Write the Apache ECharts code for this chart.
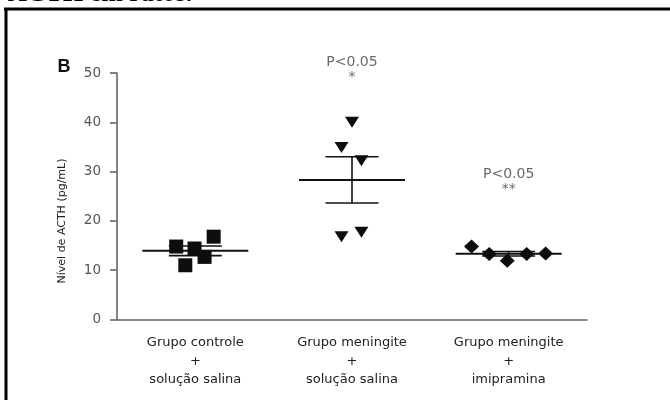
<!DOCTYPE html>
<html>
<head>
<meta charset="utf-8">
<script src="https://cdn.jsdelivr.net/npm/echarts@6/dist/echarts.min.js"></script>
<style>html,body{margin:0;padding:0;background:#fff}#c{width:670px;height:403px}</style>
</head>
<body>
<div id="c"></div>
<script>
// ---- data ----
const categories = ['Grupo controle\n+\nsolução salina', 'Grupo meningite\n+\nsolução salina', 'Grupo meningite\n+\nimipramina'];
const controleSalina = [14.8, 14.4, 16.8, 11.0, 12.7];
const meningiteSalina = [40.0, 34.9, 32.2, 16.8, 17.7];
const meningiteImipramina = [14.8, 13.3, 11.9, 13.3, 13.4];
// horizontal spread of the dots within each group (category units)
const controleSpread = [-0.122, -0.005, 0.117, -0.064, 0.059];
const meningiteSalinaSpread = [0.0, -0.067, 0.06, -0.067, 0.06];
const imipraminaSpread = [-0.237, -0.124, -0.009, 0.115, 0.236];
const annotations = ['', 'P<0.05\n*', 'P<0.05\n**'];
const annotationLevel = [0, 50.7, 27.9];
const yTicks = [0, 10, 20, 30, 40, 50];

const groups = [controleSalina, meningiteSalina, meningiteImipramina];
const spreads = [controleSpread, meningiteSalinaSpread, imipraminaSpread];

function mean(a) { return a.reduce((s, v) => s + v, 0) / a.length; }
function sem(a) {
  const m = mean(a);
  const v = a.reduce((s, x) => s + (x - m) * (x - m), 0) / (a.length - 1);
  return Math.sqrt(v / a.length);
}

const FONT = 'DejaVu Sans';
const chart = echarts.init(document.getElementById('c'), null, { renderer: 'canvas' });

const symbols = ['rect', 'triangle', 'diamond'];
const symbolSizes = [[14, 14], [14, 11], [15, 14]];
const symbolRotates = [0, 180, 0];

const scatterSeries = groups.map((g, gi) => ({
  type: 'scatter',
  xAxisIndex: 1,
  symbol: symbols[gi],
  symbolSize: symbolSizes[gi],
  symbolRotate: symbolRotates[gi],
  itemStyle: { color: '#0d0d0d', opacity: 1 },
  clip: false,
  z: 3,
  data: g.map((v, i) => [gi + 0.5 + spreads[gi][i], v])
}));

const statsData = groups.map((g, gi) => [gi, mean(g), sem(g)]);

const statsSeries = {
  type: 'custom',
  xAxisIndex: 1,
  z: 2,
  clip: false,
  data: statsData,
  renderItem: function (params, api) {
    const x = api.value(0) + 0.5;
    const m = api.value(1);
    const s = api.value(2);
    const pm = api.coord([x, m]);
    const pu = api.coord([x, m + s]);
    const pl = api.coord([x, m - s]);
    const hw = 53, sw = 26.5;
    const st = { stroke: '#111', lineWidth: 1.6 };
    return {
      type: 'group',
      children: [
        { type: 'line', shape: { x1: pm[0] - hw, y1: pm[1], x2: pm[0] + hw, y2: pm[1] }, style: { stroke: '#111', lineWidth: 2 } },
        { type: 'line', shape: { x1: pu[0] - sw, y1: pu[1], x2: pu[0] + sw, y2: pu[1] }, style: st },
        { type: 'line', shape: { x1: pl[0] - sw, y1: pl[1], x2: pl[0] + sw, y2: pl[1] }, style: st },
        { type: 'line', shape: { x1: pu[0], y1: pu[1], x2: pl[0], y2: pl[1] }, style: st }
      ]
    };
  }
};

const annotSeries = {
  type: 'scatter',
  xAxisIndex: 1,
  symbolSize: 0,
  clip: false,
  silent: true,
  data: annotations.map((t, i) => ({ value: [i + 0.5, annotationLevel[i]], name: t })).filter(d => d.name),
  label: {
    show: true,
    position: 'inside',
    formatter: p => p.name,
    fontFamily: FONT,
    fontSize: 14,
    lineHeight: 15,
    color: '#444'
  }
};

chart.setOption({
  animation: false,
  backgroundColor: '#fff',
  grid: { left: 117, right: 83, top: 73, bottom: 83.5 },
  xAxis: [
    {
      type: 'category',
      data: categories,
      boundaryGap: true,
      axisLine: { lineStyle: { color: '#666', width: 1.6 } },
      axisTick: { alignWithLabel: true, length: 7, lineStyle: { color: '#666', width: 1.6 } },
      axisLabel: { fontFamily: FONT, fontSize: 13, lineHeight: 18.5, color: '#222', margin: 14, align: 'center' }
    },
    { type: 'value', min: 0, max: 3, show: false }
  ],
  yAxis: {
    type: 'value',
    min: yTicks[0],
    max: yTicks[yTicks.length - 1],
    interval: yTicks[1] - yTicks[0],
    splitLine: { show: false },
    axisLine: { show: true, lineStyle: { color: '#666', width: 1.6 } },
    axisTick: { show: true, length: 7, lineStyle: { color: '#666', width: 1.6 } },
    axisLabel: { fontFamily: FONT, fontSize: 13.5, color: '#555', margin: 16 }
  },
  graphic: [
    { type: 'line', shape: { x1: 4, y1: 9, x2: 670, y2: 9 }, style: { stroke: '#000', lineWidth: 3 } },
    { type: 'line', shape: { x1: 6, y1: 8, x2: 6, y2: 400 }, style: { stroke: '#000', lineWidth: 3 } },
    { type: 'text', x: 8, y: 7, style: { text: 'ACTH em ratos.', fontFamily: 'Liberation Serif', fontWeight: 'bold', fontSize: 26, fill: '#000', align: 'left', verticalAlign: 'bottom' } },
    { type: 'text', x: 64, y: 67, style: { text: 'B', fontFamily: 'Liberation Sans', fontWeight: 'bold', fontSize: 18, fill: '#111', align: 'center', verticalAlign: 'middle' } },
    { type: 'text', x: 62, y: 221, rotation: Math.PI / 2, style: { text: 'Nível de ACTH (pg/mL)', fontFamily: FONT, fontSize: 11, fill: '#222', align: 'center', verticalAlign: 'middle' } }
  ],
  series: [statsSeries].concat(scatterSeries, [annotSeries])
});
</script>
</body>
</html>
